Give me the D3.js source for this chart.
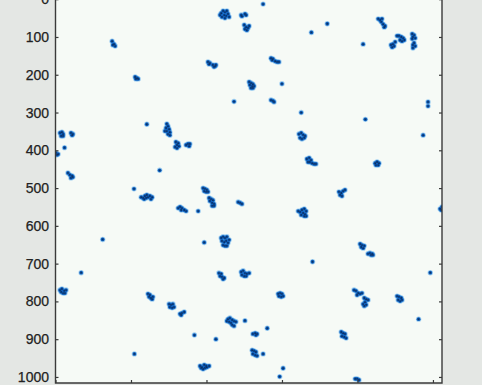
<!DOCTYPE html>
<html>
<head>
<meta charset="utf-8">
<script src="https://cdn.jsdelivr.net/npm/d3@7"></script>
<style>
  html, body { margin: 0; padding: 0; background: #e4e7e4; }
  svg { display: block; }
  .tick text { font-family: "Liberation Sans", Arial, sans-serif; font-size: 14px; fill: #222; stroke: #222; stroke-width: 0.25; }
  .tick line { stroke: #3a3a3a; stroke-width: 1.2; }
</style>
</head>
<body>
<svg id="chart" width="482" height="385"></svg>
<script>
// Detected cell positions (image pixel coordinates, x to the right, y downward)
const cellX = [
  439,444,449,454,447,452,457,441,449,460,436,
  492,494,502,505,
  500,505,510,502,507,513,
  150,155,158,152,
  404,409,407,417,423,425,420,
  211,216,219,213,
  513,518,523,515,521,526,518,523,
  473,
  242,
  295,298,293,301,295,303,298,303,290,
  12,17,20,15,20,
  41,46,44,
  24,
  1,4,7,
  33,38,44,41,46,
  319,325,322,317,322,327,
  346,351,356,354,
  276,
  208,
  227,232,237,242,245,250,256,253,240,235,
  391,396,401,394,399,404,
  407,412,417,409,415,420,415,420,
  484,489,494,
  325,330,335,333,341,346,
  378,
  125,
  394,
  439,444,449,454,441,447,452,457,444,449,454,460,
  68,
  433,439,436,441,447,444,
  492,497,502,494,500,507,513,505,
  12,17,15,23,28,25,20,
  245,250,248,253,258,256,
  301,306,311,303,309,314,
  330,335,341,333,
  457,462,468,460,465,473,478,468,473,454,
  502,
  368,
  425,
  209,
  383,388,394,399,396,401,407,391,386,
  550,
  720,
  678,
  855,860,865,863,868,873,871,
  815,
  889,894,900,897,892,
  905,910,916,921,924,918,913,
  945,950,947,953,945,950,947,953,947,
  571,576,582,587,592,574,
  600,
  571,576,579,
  651,
  821,
  987,987,
  974,
  645,651,656,661,648,653,659,
  666,672,677,674,680,685,690,669,
  847,852,857,849,855,
  751,757,762,767,754,759,
  643,648,653,659,664,656,661,651,659,664,
  1019,1024,1022,
  807,812,818,810,815,
  828,833,839,836,841,
  681,
  993,
  590,595,600,592,598,603,
  791,796,802,807,812,799,
  818,823,828,820,815,823,818,
  905,910,916,908,913,918,
  962,
  757,762,767,759,765,770,
  523,529,534,531,
  561,
  521,526,531,523,529,534,
  550,
  603,
  594,
  794,799,804
];
const cellY = [
  37,31,34,31,42,44,39,47,50,47,42,
  42,45,39,42,
  68,74,76,79,82,71,
  111,119,124,121,
  166,169,172,174,177,174,179,
  206,209,211,211,
  219,222,225,227,230,230,235,235,
  271,
  331,
  330,336,341,344,349,352,357,360,349,
  354,352,357,362,362,
  354,357,360,
  393,
  407,412,410,
  460,465,468,473,471,
  378,381,386,391,394,389,
  386,383,383,389,
  453,
  502,
  524,526,521,518,524,521,524,529,526,529,
  500,502,505,508,510,510,
  526,529,532,534,539,542,547,547,
  537,539,542,
  553,550,553,558,558,561,
  561,
  636,
  644,
  632,629,632,629,640,643,640,645,651,653,653,637,
  724,
  725,727,733,735,738,741,
  722,719,725,730,733,727,725,733,
  770,767,775,772,770,778,778,
  780,783,788,791,788,794,
  807,809,807,815,817,815,
  833,831,828,836,
  847,844,849,854,857,852,854,862,865,852,
  851,
  889,
  900,
  939,
  971,974,968,971,976,974,971,979,976,
  13,
  65,
  88,
  52,55,52,60,66,71,74,
  119,
  121,119,113,124,127,
  97,97,100,103,108,111,108,
  92,95,100,103,105,116,121,124,129,
  156,158,164,166,166,161,
  224,
  267,269,272,
  300,
  318,
  272,283,
  360,
  357,354,359,362,367,370,367,
  423,420,426,431,434,436,436,431,
  434,431,434,439,439,
  510,513,508,505,518,521,
  561,563,558,555,561,566,569,571,574,574,
  555,550,558,
  648,651,653,656,659,
  674,672,674,677,677,
  695,
  724,
  780,778,780,786,788,786,
  770,772,778,780,778,783,
  791,794,796,802,807,809,812,
  786,788,791,796,799,796,
  847,
  881,884,886,892,894,897,
  886,884,886,889,
  871,
  929,931,934,939,942,944,
  939,
  977,
  999,
  1005,1005,1008
];
const yTickValues = [0, 100, 200, 300, 400, 500, 600, 700, 800, 900, 1000];
const xTickValues = [0, 200, 400, 600, 800, 1000];

const svg = d3.select("#chart");
const W = 482, H = 385;

// Axes box: left 55.5, right 442, bottom 383; the top runs just above the view
const x = d3.scaleLinear().domain([0, 1024]).range([55.5, 442]);
const y = d3.scaleLinear().domain([0, 1016]).range([-0.8, 383]);

svg.append("rect").attr("width", W).attr("height", H).attr("fill", "#e4e7e4");

svg.append("defs").append("clipPath").attr("id", "plotClip")
  .append("rect")
  .attr("x", x(0)).attr("y", -10)
  .attr("width", x(1024) - x(0)).attr("height", y(1016) + 10);

svg.append("rect")
  .attr("x", x(0)).attr("y", -10)
  .attr("width", x(1024) - x(0)).attr("height", y(1016) + 10)
  .attr("fill", "#f6faf6");

// Cell markers: soft light halo, blue body, dark centre
const pts = cellX.map((v, i) => [v, cellY[i]]);
const g = svg.append("g").attr("clip-path", "url(#plotClip)");
g.selectAll("circle.halo").data(pts).join("circle")
  .attr("class", "halo")
  .attr("cx", d => x(d[0])).attr("cy", d => y(d[1]))
  .attr("r", 2.7).attr("fill", "#4aa3ec").attr("opacity", 0.5);
g.selectAll("circle.body").data(pts).join("circle")
  .attr("class", "body")
  .attr("cx", d => x(d[0])).attr("cy", d => y(d[1]))
  .attr("r", 1.9).attr("fill", "#0d5cb8");
g.selectAll("circle.core").data(pts).join("circle")
  .attr("class", "core")
  .attr("cx", d => x(d[0])).attr("cy", d => y(d[1]))
  .attr("r", 0.9).attr("fill", "#0a2f63");

// Inward ticks on left, right and bottom
const left = svg.append("g").attr("transform", `translate(${x(0)},0)`)
  .call(d3.axisLeft(y).tickValues(yTickValues).tickSize(-3).tickPadding(6.5)
    .tickFormat(d3.format("d")));
left.select(".domain").remove();

const right = svg.append("g").attr("transform", `translate(${x(1024)},0)`)
  .call(d3.axisRight(y).tickValues(yTickValues).tickSize(-3).tickFormat(""));
right.select(".domain").remove();

const bottom = svg.append("g").attr("transform", `translate(0,${y(1016)})`)
  .call(d3.axisBottom(x).tickValues(xTickValues).tickSize(-3).tickFormat(""));
bottom.select(".domain").remove();

// Axes frame
svg.append("path")
  .attr("d", `M${x(0)},-10V${y(1016)}H${x(1024)}V-10`)
  .attr("fill", "none").attr("stroke", "#3a3a3a").attr("stroke-width", 1.4);
</script>
</body>
</html>
